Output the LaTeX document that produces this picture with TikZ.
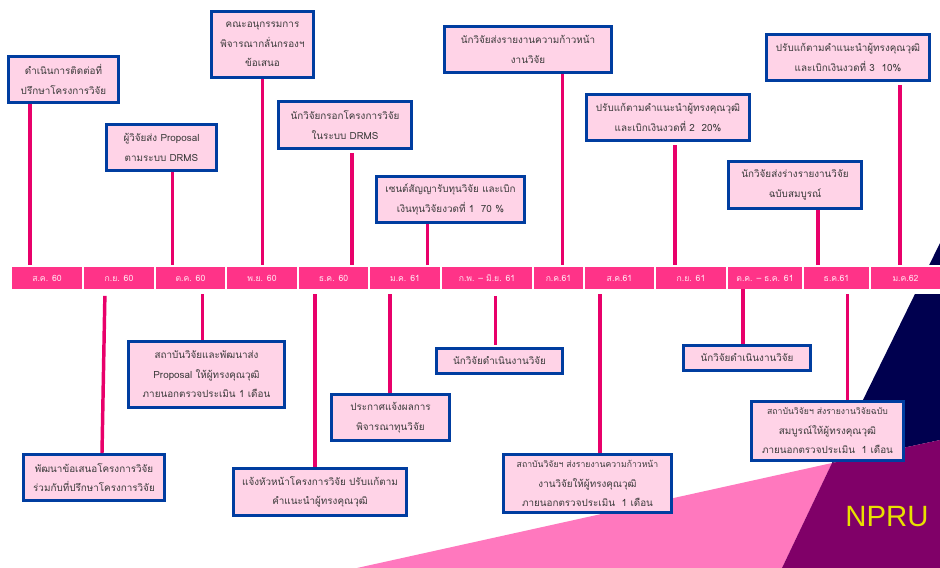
\documentclass[tikz,border=0pt]{standalone}
\usepackage{fontspec}
\newfontfamily\thaifont[Script=Thai]{Loma}
\setmainfont{Liberation Sans}
\definecolor{bgpink}{HTML}{FF78BE}
\definecolor{bgpurple}{HTML}{800068}
\definecolor{bgnavy}{HTML}{00004F}
\definecolor{boxfill}{HTML}{FFD3E7}
\definecolor{boxedge}{HTML}{003DA0}
\definecolor{stemcol}{HTML}{E8006A}
\definecolor{cellcol}{HTML}{FF3388}
\definecolor{celltext}{HTML}{FFE4F0}
\definecolor{boxtext}{HTML}{3A3A3A}
\definecolor{logotext}{HTML}{E8E000}
\tikzset{
  notebox/.style={draw=boxedge,line width=2.25pt,fill=boxfill,inner sep=0pt,align=center,text=boxtext,
    font=\thaifont\fontsize{7.4}{14.6}\selectfont},
  cellbox/.style={fill=cellcol,inner sep=0pt,text=celltext,font=\thaifont\fontsize{6.5}{9}\selectfont},
  stem/.style={draw=stemcol,line width=2.6pt},
}
\newcommand{\notenode}[6]{%
  \pgfmathsetmacro{\bw}{(#4-#2-3)*0.75}\pgfmathsetmacro{\bh}{(#5-#3-3)*0.75}%
  \node[notebox,minimum width=\bw pt,minimum height=\bh pt] (#1) at ({(#2+#4)/2},{(#3+#5)/2}) {#6};}
\newcommand{\cellnode}[4]{%
  \pgfmathsetmacro{\bw}{(#3-#2)*0.75}%
  \node[cellbox,minimum width=\bw pt,minimum height=16.5pt] (#1) at ({(#2+#3)/2},278) {#4};}
\begin{document}
\begin{tikzpicture}[x=0.75pt,y=-0.75pt]
\useasboundingbox (0,0) rectangle (940,568);
% background
\fill[bgpink] (357,568) -- (832,463) -- (782,568) -- cycle;
\fill[bgnavy] (940,243) -- (832,463) -- (940,440) -- cycle;
\fill[bgpurple] (832,463) -- (940,440) -- (940,568) -- (782,568) -- cycle;
\fill[white] (0,265) rectangle (940,294);
\node[text=logotext,font=\fontsize{22}{22}\selectfont] (logo) at (887,517) {NPRU};
% timeline
\cellnode{c1}{12}{82}{ส.ค. 60}
\cellnode{c2}{84}{154}{ก.ย. 60}
\cellnode{c3}{156}{225}{ต.ค. 60}
\cellnode{c4}{227}{297}{พ.ย. 60}
\cellnode{c5}{299}{368}{ธ.ค. 60}
\cellnode{c6}{370}{440}{ม.ค. 61}
\cellnode{c7}{442}{532}{ก.พ. – มิ.ย. 61}
\cellnode{c8}{534}{583}{ก.ค.61}
\cellnode{c9}{585}{654}{ส.ค.61}
\cellnode{c10}{656}{726}{ก.ย. 61}
\cellnode{c11}{728}{802}{ต.ค. – ธ.ค. 61}
\cellnode{c12}{804}{869}{ธ.ค.61}
\cellnode{c13}{871}{940}{ม.ค.62}
\coordinate (s1) at (30,0);
\coordinate (s2) at (172.5,0);
\coordinate (s3) at (262.5,0);
\coordinate (s4) at (352,0);
\coordinate (s5) at (427.5,0);
\coordinate (s6) at (562.7,0);
\coordinate (s7) at (675,0);
\coordinate (s8) at (818,0);
\coordinate (s9) at (900,0);
\coordinate (sB) at (202.5,0);
\coordinate (sC) at (315,0);
\coordinate (sD) at (390,0);
\coordinate (sE) at (495.5,0);
\coordinate (sF) at (600,0);
\coordinate (sG) at (743,0);
\coordinate (sH) at (847.5,0);
% upper boxes
\notenode{b1}{7}{55}{120}{104}{ดำเนินการติดต่อที่\\ปรึกษาโครงการวิจัย}
\notenode{b2}{105}{123}{218}{172}{ผู้วิจัยส่ง Proposal\\ตามระบบ DRMS}
\notenode{b3}{210}{10}{315}{79}{คณะอนุกรรมการ\\พิจารณากลั่นกรองฯ\\ข้อเสนอ}
\notenode{b4}{277}{100}{413}{150}{นักวิจัยกรอกโครงการวิจัย\\ในระบบ DRMS}
\notenode{b5}{375}{175}{526}{224}{เซนต์สัญญารับทุนวิจัย และเบิก\\เงินทุนวิจัยงวดที่ 1~~70 \%}
\notenode{b6}{443}{25}{613}{74}{นักวิจัยส่งรายงานความก้าวหน้า\\งานวิจัย}
\notenode{b7}{585}{93}{751}{142}{ปรับแก้ตามคำแนะนำผู้ทรงคุณวุฒิ\\และเบิกเงินงวดที่ 2~~20\%}
\notenode{b8}{727}{160}{863}{210}{นักวิจัยส่งร่างรายงานวิจัย\\ฉบับสมบูรณ์}
\notenode{b9}{765}{33}{931}{82}{ปรับแก้ตามคำแนะนำผู้ทรงคุณวุฒิ\\และเบิกเงินงวดที่ 3~~10\%}
% lower boxes
\notenode{bA}{22}{453}{166}{502}{พัฒนาข้อเสนอโครงการวิจัย\\ร่วมกับที่ปรึกษาโครงการวิจัย}
\notenode{bB}{127}{340}{286}{409}{สถาบันวิจัยและพัฒนาส่ง\\Proposal ให้ผู้ทรงคุณวุฒิ\\ภายนอกตรวจประเมิน 1 เดือน}
\notenode{bC}{232}{467}{408}{517}{แจ้งหัวหน้าโครงการวิจัย ปรับแก้ตาม\\คำแนะนำผู้ทรงคุณวุฒิ}
\notenode{bD}{330}{393}{451}{442}{ประกาศแจ้งผลการ\\พิจารณาทุนวิจัย}
\notenode{bE}{435}{347}{564}{375}{นักวิจัยดำเนินงานวิจัย}
\notenode{bF}{502}{453}{673}{514}{\fontsize{6.5}{12.8}\selectfont สถาบันวิจัยฯ ส่งรายงานความก้าวหน้า\\งานวิจัยให้ผู้ทรงคุณวุฒิ\\ภายนอกตรวจประเมิน~~1 เดือน}
\notenode{bG}{682}{344}{812}{372}{นักวิจัยดำเนินงานวิจัย}
\notenode{bH}{750}{400}{905}{462}{\fontsize{6.5}{12.4}\selectfont สถาบันวิจัยฯ ส่งรายงานวิจัยฉบับ\\สมบูรณ์ให้ผู้ทรงคุณวุฒิ\\ภายนอกตรวจประเมิน~~1 เดือน}
% connectors
\draw[stem,shorten >=1.5pt] (b1.south -| s1) -- (c1.north -| s1);
\draw[stem,shorten >=1pt] (b2.south -| s2) -- (c3.north -| s2);
\draw[stem,shorten >=1.5pt] (b3.south -| s3) -- (c4.north -| s3);
\draw[stem,shorten <=2.2pt,shorten >=1.5pt] (b4.south -| s4) -- (c5.north -| s4);
\draw[stem,shorten >=1.5pt] (b5.south -| s5) -- (c6.north -| s5);
\draw[stem,shorten >=1.5pt] (b6.south -| s6) -- (c8.north -| s6);
\draw[stem,shorten <=2.2pt,shorten >=1pt] (b7.south -| s7) -- (c10.north -| s7);
\draw[stem,shorten >=1pt] (b8.south -| s8) -- (c12.north -| s8);
\draw[stem,shorten <=2.2pt,shorten >=1pt] (b9.south -| s9) -- (c13.north -| s9);
\draw[stem,shorten <=5pt] ([xshift=-10.5pt]c2.south) -- ([xshift=6pt]bA.north);
\draw[stem,shorten <=3.7pt] (c3.south -| sB) -- (bB.north -| sB);
\draw[stem,shorten <=3.7pt] (c5.south -| sC) -- (bC.north -| sC);
\draw[stem,shorten <=3.7pt] (c6.south -| sD) -- (bD.north -| sD);
\draw[stem,shorten <=5pt,shorten >=1.5pt] (c7.south -| sE) -- (bE.north -| sE);
\draw[stem,shorten <=3.7pt] (c9.south -| sF) -- (bF.north -| sF);
\draw[stem] (c11.south -| sG) -- (bG.north -| sG);
\draw[stem,shorten <=3.7pt] (c12.south -| sH) -- (bH.north -| sH);
\end{tikzpicture}
\end{document}
